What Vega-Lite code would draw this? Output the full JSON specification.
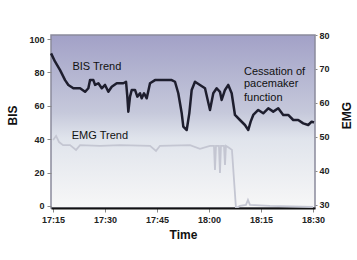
{
  "$schema": "https://vega.github.io/schema/vega-lite/v6.json",
  "width": 264,
  "height": 173,
  "autosize": "none",
  "padding": {"left": 51, "top": 35, "right": 42, "bottom": 52},
  "background": "white",
  "config": {
    "font": "Liberation Sans",
    "view": {
      "stroke": "#8a8a9c",
      "strokeWidth": 1.5,
      "fill": {
        "gradient": "linear",
        "x1": 0, "y1": 0, "x2": 0, "y2": 1,
        "stops": [
          {"offset": 0, "color": "#a2a1c7"},
          {"offset": 0.45, "color": "#c6c9db"},
          {"offset": 0.6, "color": "#e0e4ec"},
          {"offset": 1, "color": "#f7f7f7"}
        ]
      }
    },
    "axis": {
      "labelFont": "Liberation Sans",
      "labelFontSize": 9,
      "labelFontWeight": "bold",
      "labelColor": "#222222",
      "titleFont": "Liberation Sans",
      "titleFontSize": 12,
      "titleFontWeight": "bold",
      "titleColor": "#111111",
      "tickColor": "#888888",
      "grid": false
    }
  },
  "datasets": {
    "bis": [
      {"min": 14.42, "bis": 91.4}, {"min": 15.58, "bis": 86.4}, {"min": 17.02, "bis": 81.4},
      {"min": 18.46, "bis": 75.4}, {"min": 19.41, "bis": 72.5}, {"min": 20.86, "bis": 70.5},
      {"min": 22.79, "bis": 70.5}, {"min": 24.23, "bis": 68.4}, {"min": 25.18, "bis": 70.5},
      {"min": 25.67, "bis": 75.4}, {"min": 26.63, "bis": 75.4}, {"min": 27.12, "bis": 72.5},
      {"min": 28.07, "bis": 73.5}, {"min": 29.05, "bis": 70.5}, {"min": 30.0, "bis": 72.5},
      {"min": 30.95, "bis": 68.4}, {"min": 31.93, "bis": 71.4}, {"min": 33.38, "bis": 73.5},
      {"min": 35.28, "bis": 73.5}, {"min": 36.06, "bis": 74.4}, {"min": 36.43, "bis": 65.5},
      {"min": 36.72, "bis": 56.5}, {"min": 37.21, "bis": 65.5}, {"min": 37.7, "bis": 69.5},
      {"min": 38.65, "bis": 69.5}, {"min": 39.32, "bis": 65.5}, {"min": 40.1, "bis": 67.5},
      {"min": 40.59, "bis": 64.5}, {"min": 41.25, "bis": 67.5}, {"min": 42.03, "bis": 64.5},
      {"min": 42.98, "bis": 73.5}, {"min": 44.42, "bis": 75.4}, {"min": 46.82, "bis": 75.4},
      {"min": 49.24, "bis": 75.4}, {"min": 50.19, "bis": 74.4}, {"min": 51.14, "bis": 67.5},
      {"min": 52.13, "bis": 55.5}, {"min": 52.59, "bis": 47.5}, {"min": 53.57, "bis": 45.5},
      {"min": 54.32, "bis": 55.5}, {"min": 55.01, "bis": 69.5}, {"min": 55.96, "bis": 74.4},
      {"min": 57.4, "bis": 72.5}, {"min": 58.85, "bis": 70.5}, {"min": 60.29, "bis": 57.5},
      {"min": 61.24, "bis": 67.5}, {"min": 62.22, "bis": 70.5}, {"min": 63.17, "bis": 68.4},
      {"min": 63.66, "bis": 63.5}, {"min": 64.62, "bis": 69.5}, {"min": 65.57, "bis": 72.5},
      {"min": 66.55, "bis": 67.5}, {"min": 67.5, "bis": 54.5}, {"min": 68.94, "bis": 51.5},
      {"min": 70.38, "bis": 48.5}, {"min": 71.34, "bis": 45.5}, {"min": 72.03, "bis": 50.5},
      {"min": 72.78, "bis": 54.5}, {"min": 74.22, "bis": 57.5}, {"min": 75.66, "bis": 55.5},
      {"min": 77.11, "bis": 58.5}, {"min": 78.55, "bis": 56.5}, {"min": 79.99, "bis": 58.5},
      {"min": 81.43, "bis": 54.5}, {"min": 82.87, "bis": 54.5}, {"min": 84.32, "bis": 51.5},
      {"min": 85.76, "bis": 51.5}, {"min": 87.2, "bis": 49.5}, {"min": 88.64, "bis": 48.5},
      {"min": 89.63, "bis": 50.5}, {"min": 90.3, "bis": 50.0}
    ],
    "emg": [
      {"min": 15.0, "emg": 49.1}, {"min": 15.87, "emg": 50.3}, {"min": 16.73, "emg": 48.5},
      {"min": 17.88, "emg": 47.6}, {"min": 19.9, "emg": 47.6}, {"min": 21.63, "emg": 46.2},
      {"min": 22.79, "emg": 47.6}, {"min": 28.56, "emg": 47.4}, {"min": 34.33, "emg": 47.6},
      {"min": 42.98, "emg": 47.4}, {"min": 44.71, "emg": 45.9}, {"min": 45.87, "emg": 47.4},
      {"min": 54.52, "emg": 47.6}, {"min": 57.4, "emg": 46.5}, {"min": 60.29, "emg": 47.4},
      {"min": 61.44, "emg": 47.4}, {"min": 61.73, "emg": 40.3}, {"min": 62.02, "emg": 47.4},
      {"min": 62.88, "emg": 47.4}, {"min": 63.17, "emg": 39.4}, {"min": 63.46, "emg": 47.4},
      {"min": 64.33, "emg": 47.4}, {"min": 64.62, "emg": 41.8}, {"min": 64.9, "emg": 47.4},
      {"min": 65.77, "emg": 46.8}, {"min": 66.63, "emg": 46.2}, {"min": 67.79, "emg": 29.0},
      {"min": 68.94, "emg": 29.7}, {"min": 70.67, "emg": 30.0}, {"min": 71.25, "emg": 31.5},
      {"min": 71.83, "emg": 30.0}, {"min": 77.6, "emg": 29.7}, {"min": 90.0, "emg": 29.4}
    ],
    "notes": [
      {"min": 20.57, "bis": 83.4, "label": "BIS Trend"},
      {"min": 20.4, "bis": 42.1, "label": "EMG Trend"},
      {"min": 70.1, "bis": 80.4, "label": "Cessation of"},
      {"min": 70.1, "bis": 72.9, "label": "pacemaker"},
      {"min": 70.1, "bis": 64.5, "label": "function"}
    ]
  },
  "encoding": {
    "x": {
      "field": "min",
      "type": "quantitative",
      "scale": {"domain": [14.4, 90.6], "nice": false, "zero": false},
      "axis": {
        "title": "Time",
        "values": [15, 30, 45, 60, 75, 90],
        "labelExpr": "['17:15','17:30','17:45','18:00','18:15','18:30'][round((datum.value-15)/15)]",
        "domainColor": "#111111",
        "domainWidth": 2,
        "tickSize": 4,
        "labelPadding": 3,
        "titlePadding": 5
      }
    }
  },
  "layer": [
    {
      "encoding": {
        "y": {
          "field": "bis",
          "type": "quantitative",
          "scale": {"domain": [-1.2, 102.4], "nice": false, "zero": false},
          "axis": {
            "title": "BIS",
            "values": [0, 20, 40, 60, 80, 100],
            "domain": false,
            "tickSize": 4,
            "labelPadding": 3,
            "titleX": -39,
            "titleY": 80,
            "titleAngle": 270,
            "titleAlign": "center",
            "titleBaseline": "middle"
          }
        }
      },
      "layer": [
        {
          "data": {"name": "bis"},
          "mark": {"type": "line", "color": "#1e1e2e", "strokeWidth": 2.5, "strokeJoin": "round"}
        },
        {
          "data": {"name": "notes"},
          "mark": {"type": "text", "align": "left", "baseline": "middle", "fontSize": 11, "font": "Liberation Sans", "color": "#111111"},
          "encoding": {"text": {"field": "label"}}
        }
      ]
    },
    {
      "data": {"name": "emg"},
      "mark": {"type": "line", "color": "#c4c6d2", "strokeWidth": 1.8, "clip": true},
      "encoding": {
        "y": {
          "field": "emg",
          "type": "quantitative",
          "scale": {"domain": [29.1, 80], "nice": false, "zero": false},
          "axis": {
            "title": "EMG",
            "orient": "right",
            "values": [30, 40, 50, 60, 70, 80],
            "domain": false,
            "tickSize": 2,
            "labelPadding": 2,
            "titleX": 31,
            "titleY": 80,
            "titleAngle": 270,
            "titleAlign": "center",
            "titleBaseline": "middle"
          }
        }
      }
    }
  ],
  "resolve": {"scale": {"y": "independent"}}
}
